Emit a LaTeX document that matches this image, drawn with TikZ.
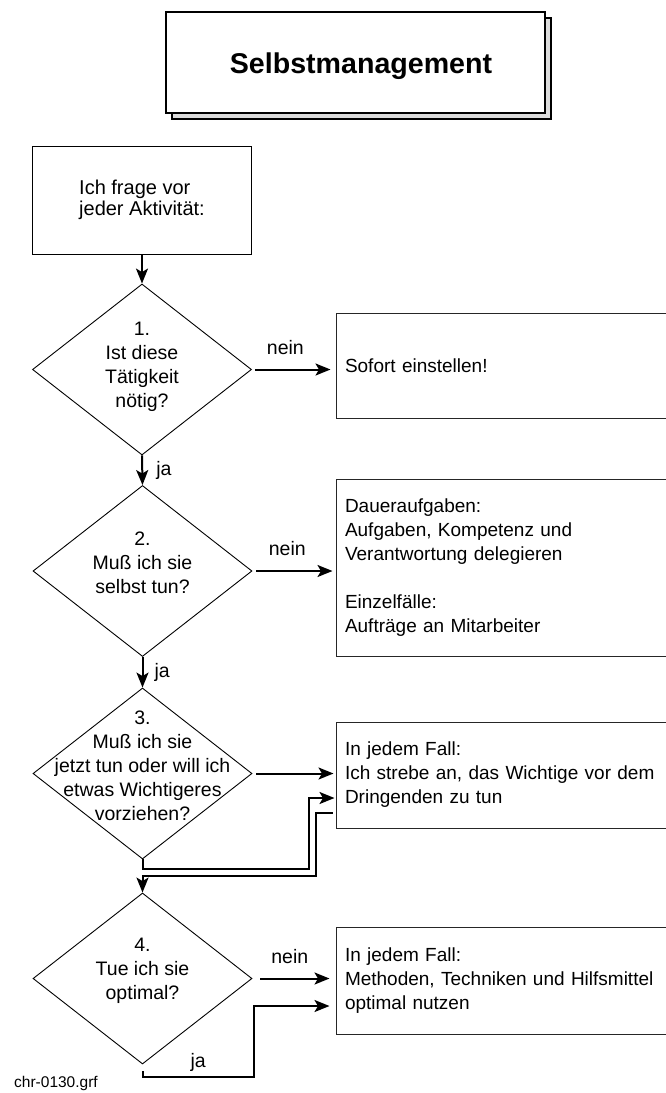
\documentclass[tikz,border=0pt]{standalone}
\usepackage{fontspec}
\setmainfont{Liberation Sans}
\usetikzlibrary{shapes.geometric,arrows.meta}
\begin{document}
\begin{tikzpicture}[x=1pt,y=-1pt,
  lbl/.style={font=\fontsize{19.5}{24}\selectfont, inner sep=0pt},
  titlebox/.style={draw=black, line width=1.6pt, fill=white, minimum width=379pt, minimum height=101pt, inner sep=0pt},
  titletext/.style={inner sep=0pt, text depth=0pt, font=\bfseries\fontsize{28.6}{34}\selectfont},
  shadowbox/.style={draw=black, line width=1.6pt, fill=black!14, minimum width=379pt, minimum height=101pt, inner sep=0pt},
  startbox/.style={draw=black, line width=0.9pt, minimum width=219pt, minimum height=108pt, align=left, font=\fontsize{20}{21.5}\selectfont},
  rbox/.style={draw=black!85, line width=1pt, minimum width=344pt, text width=326pt, inner xsep=9pt, align=left, font=\fontsize{19}{24}\selectfont},
  dia/.style={draw=black, line width=0.9pt, shape=diamond, minimum width=219pt, minimum height=171pt, inner sep=0pt},
  dtext/.style={align=center, font=\fontsize{19.5}{24}\selectfont, inner sep=0pt},
  arr/.style={line width=2pt, -{Stealth[length=15pt,width=12pt,inset=3.5pt]}},
]
\useasboundingbox (0,0) rectangle (666,1093);
\clip (0,0) rectangle (666,1093);

% title
\node[shadowbox] (tshadow) at (361.5,68.5) {};
\node[titlebox] (title) at (355.5,62.5) {};
\node[titletext] (ttext) at (361,63.5) {Selbstmanagement};

% start box
\node[startbox] (s) at (142,200) {Ich frage vor\\jeder Aktivität:};

% diamonds
\node[dia] (d1) at (142,369.5) {};
\node[dtext] at (142,367) {1.\\Ist diese\\Tätigkeit\\nötig?};
\node[dia] (d2) at (142.5,571) {};
\node[dtext] at (142.5,563) {2.\\Muß ich sie\\selbst tun?};
\node[dia] (d3) at (142.5,773.5) {};
\node[dtext] at (142.5,766) {3.\\Muß ich sie\\jetzt tun oder will ich\\etwas Wichtigeres\\vorziehen?};
\node[dia] (d4) at (142.5,978.5) {};
\node[dtext] at (142.5,971) {4.\\Tue ich sie\\optimal?};

% right boxes
\node[rbox, minimum height=105pt] (b1) at (508,365.5) {Sofort einstellen!};
\node[rbox, minimum height=177pt] (b2) at (508,567.5) {Daueraufgaben:\\Aufgaben, Kompetenz und\\Verantwortung delegieren\\[24pt]Einzelfälle:\\Aufträge an Mitarbeiter};
\node[rbox, minimum height=106pt] (b3) at (508,775) {In jedem Fall:\\Ich strebe an, das Wichtige vor dem\\Dringenden zu tun};
\node[rbox, minimum height=107pt] (b4) at (508,980.5) {In jedem Fall:\\Methoden, Techniken und Hilfsmittel\\optimal nutzen};

% footer
\node[anchor=west, font=\fontsize{15.5}{18}\selectfont, inner sep=0pt] (foot) at (14,1083) {chr-0130.grf};

% bend points
\coordinate (k1) at (309,869);
\coordinate (k2) at (316,876);
\coordinate (k3) at (254,1077);

% connectors
\draw[arr] (s.south) -- (d1.north);
\draw[arr, shorten <=3pt, shorten >=5pt] (d1.east) -- node[lbl, above=14pt, pos=.4]{nein} (d1.east -| b1.west);
\draw[arr] (d1.south) -- node[lbl, right=13pt]{ja} (d2.north);
\draw[arr, shorten <=4pt, shorten >=3pt] (d2.east) -- node[lbl, above=14pt, pos=.42]{nein} (d2.east -| b2.west);
\draw[arr] (d2.south) -- node[lbl, right=11pt]{ja} (d3.north);
\draw[arr, shorten <=4pt, shorten >=2pt] (d3.east) -- (d3.east -| b3.west);
\draw[arr, shorten >=1pt] (d3.south) |- (k1) |- ([yshift=-23pt]b3.west);
\draw[arr, shorten <=3pt] ([yshift=-38pt]b3.west) -| (k2) -| (d4.north);
\draw[arr, shorten <=8pt, shorten >=6pt] (d4.east) -- node[lbl, above=14pt, pos=.45]{nein} (d4.east -| b4.west);
\draw[arr, shorten <=7pt, shorten >=6pt] (d4.south) |- node[lbl, pos=.75, above=4pt]{ja} (k3) |- ([yshift=-25.5pt]b4.west);
\end{tikzpicture}
\end{document}
